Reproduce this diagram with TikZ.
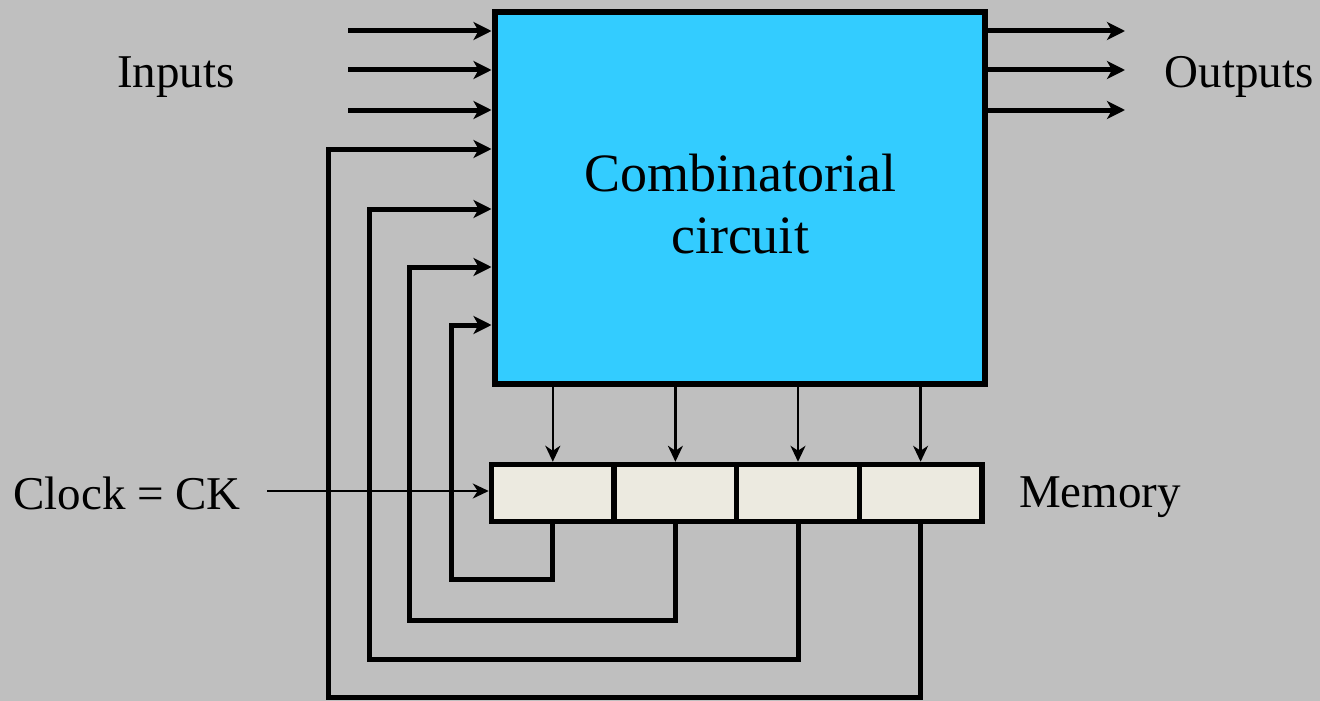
\documentclass[tikz,border=0pt]{standalone}
\usepackage{fontspec}
\setmainfont{Liberation Serif}
\usetikzlibrary{arrows.meta,calc}
\definecolor{bg}{HTML}{BFBFBF}
\definecolor{combfill}{HTML}{33CCFF}
\definecolor{memfill}{HTML}{ECEAE0}
\tikzset{
  combbox/.style={draw=black,fill=combfill,line width=6pt,minimum width=490pt,minimum height=371pt,inner sep=0pt},
  ctext/.style={align=center,inner sep=0pt,font=\fontsize{54}{62}\selectfont},
  cell/.style={draw=black,fill=memfill,line width=5.5pt,minimum width=122.6pt,minimum height=57pt,inner sep=0pt},
  lbl/.style={font=\fontsize{47}{56}\selectfont,inner sep=0pt},
  thickarrow/.style={line width=5pt,-{Stealth[length=18pt,width=18pt,inset=5pt]}},
  thinarrow/.style={line width=2.3pt,-{Stealth[length=16pt,width=15pt,inset=5pt]}},
  fb/.style={line width=5pt,line join=miter,-{Stealth[length=18pt,width=18pt,inset=5pt]}}
}
\begin{document}
\begin{tikzpicture}[x=1pt,y=-1pt]
\fill[bg] (0,0) rectangle (1320,701);
\useasboundingbox (0,0) rectangle (1320,701);
% nodes
\node[combbox] (comb) at (739.5,198) {};
\node[ctext] (combtext) at (740,204) {Combinatorial\\circuit};
\node[cell] (m1) at (552.8,493) {};
\node[cell] (m2) at (675.4,493) {};
\node[cell] (m3) at (798,493) {};
\node[cell] (m4) at (920.6,493) {};
\node[lbl] (inputs) at (176,77) {Inputs};
\node[lbl] (outputs) at (1239,77) {Outputs};
\node[lbl] (clock) at (127,493) {Clock = CK};
\node[lbl] (memory) at (1100,497) {Memory};
% input arrows
\foreach \y [count=\i] in {31,70,110} {
  \coordinate (in\i) at (348,\y);
  \draw[thickarrow] (in\i) -- (in\i -| comb.west);
  \coordinate (out\i) at (1125,\y);
  \draw[thickarrow] (out\i -| comb.east) -- (out\i);
}
% comb to memory arrows
\foreach \m in {m1,m2,m3,m4} {
  \draw[thinarrow] (\m.north |- comb.south) -- (\m.north);
}
% clock
\coordinate (ck) at (267,491);
\draw[thinarrow] (ck) -- (ck -| m1.west);
% feedback loops
\draw[fb] (m1.south) -- (m1.south |- 0,579) -- (451,579) -- (451,325) -- (comb.west |- 0,325);
\draw[fb] (m2.south) -- (m2.south |- 0,620) -- (409,620) -- (409,267) -- (comb.west |- 0,267);
\draw[fb] (m3.south) -- (m3.south |- 0,659) -- (369,659) -- (369,209) -- (comb.west |- 0,209);
\draw[fb] (m4.south) -- (m4.south |- 0,697) -- (328,697) -- (328,149) -- (comb.west |- 0,149);
\end{tikzpicture}
\end{document}
